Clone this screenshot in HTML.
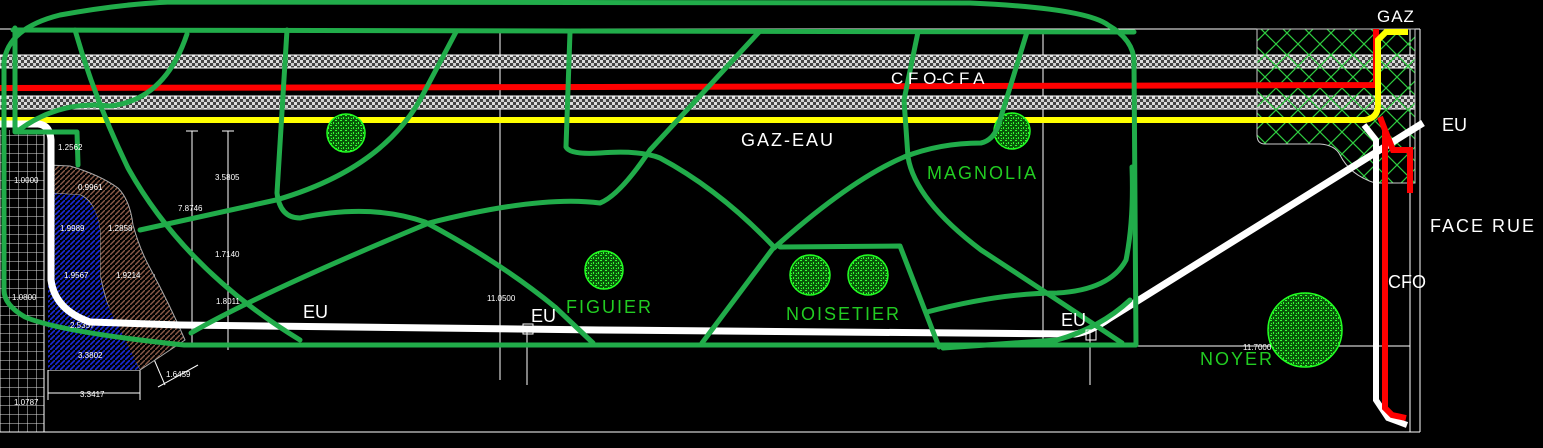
<!DOCTYPE html>
<html><head><meta charset="utf-8"><style>
html,body{margin:0;padding:0;background:#000;width:1543px;height:448px;overflow:hidden}
svg{display:block}
text{font-family:"Liberation Sans",sans-serif}
</style></head><body>
<svg width="1543" height="448" viewBox="0 0 1543 448" xmlns="http://www.w3.org/2000/svg">
<defs>
<pattern id="band" width="6" height="6" patternUnits="userSpaceOnUse">
<rect width="6" height="6" fill="#444"/>
<rect width="3" height="3" fill="#ddd"/><rect x="3" y="3" width="3" height="3" fill="#ccc"/>
</pattern>
<pattern id="xh" width="22" height="22" patternUnits="userSpaceOnUse">
<path d="M0,0 L22,22 M22,0 L0,22" stroke="#2ecc40" stroke-width="1.2"/>
</pattern>
<pattern id="blue" width="5" height="5" patternUnits="userSpaceOnUse">
<rect width="5" height="5" fill="#000"/>
<path d="M0,5 L5,0" stroke="#1a2ad8" stroke-width="1.6"/>
</pattern>
<pattern id="brown" width="5" height="5" patternUnits="userSpaceOnUse">
<rect width="5" height="5" fill="#000"/>
<path d="M0,5 L5,0" stroke="#8a5a48" stroke-width="1.4"/>
</pattern>
<pattern id="grid" width="9" height="9" patternUnits="userSpaceOnUse">
<path d="M0,0 H9 M0,0 V9" stroke="#ddd" stroke-width="1"/>
</pattern>
<pattern id="tree" width="5" height="5" patternUnits="userSpaceOnUse">
<rect width="5" height="5" fill="#0a5a0a"/>
<rect x="0" y="0" width="2" height="1" fill="#3f3"/><rect x="3" y="2" width="1" height="2" fill="#3f3"/><rect x="1" y="3" width="1" height="1" fill="#3f3"/>
</pattern>
</defs>

<rect x="0" y="130" width="44" height="302" fill="url(#grid)"/>
<line x1="44" y1="130" x2="44" y2="432" stroke="#fff"/>

<g stroke="#fff" stroke-width="1" fill="none">
<line x1="0" y1="29" x2="1420" y2="29"/>
<line x1="0" y1="432" x2="1420" y2="432"/>
<line x1="1420" y1="29" x2="1420" y2="432"/>
<line x1="1410" y1="29" x2="1410" y2="432"/>
<line x1="1100" y1="346" x2="1410" y2="346"/>
<line x1="500" y1="29" x2="500" y2="380"/>
<line x1="1043" y1="29" x2="1043" y2="340"/>
<line x1="527" y1="330" x2="527" y2="385"/>
<line x1="1090" y1="330" x2="1090" y2="385"/>
<line x1="192" y1="131" x2="192" y2="345"/>
<line x1="228" y1="131" x2="228" y2="350"/>
<line x1="186" y1="131" x2="198" y2="131"/><line x1="222" y1="131" x2="234" y2="131"/>
<line x1="48" y1="370" x2="140" y2="370"/>
<line x1="48" y1="393" x2="140" y2="393"/>
<line x1="48" y1="370" x2="48" y2="400"/><line x1="140" y1="370" x2="140" y2="400"/>
<line x1="52" y1="228" x2="100" y2="228"/>
<line x1="50" y1="275" x2="155" y2="275"/>
<line x1="150" y1="350" x2="165" y2="385"/>
<line x1="158" y1="387" x2="198" y2="365"/>
</g>

<rect x="0" y="55" width="1415" height="13" fill="url(#band)" stroke="#fff" stroke-width="1"/>
<rect x="0" y="96" width="1415" height="13" fill="url(#band)" stroke="#fff" stroke-width="1"/>

<path d="M1257,29 L1415,29 L1415,183 L1375,183 Q1350,175 1340,155 Q1335,145 1320,144 L1265,144 Q1257,144 1257,135 Z" fill="url(#xh)" stroke="#ccc" stroke-width="1"/>

<path d="M0,88 L600,87 L1376,85 L1376,29" stroke="#f00" stroke-width="6" fill="none"/>
<path d="M0,120 L1365,120 Q1378,118 1378,105 L1378,40 L1386,32 L1408,32" stroke="#ff0" stroke-width="6" fill="none"/>

<path d="M48,165 L70,166 Q100,175 118,188 Q130,200 133,225 Q140,250 150,268 Q170,305 185,340 L140,370 L115,325 Q105,300 100,275 L100,230 Q95,200 80,195 L48,193 Z" fill="url(#brown)" stroke="#aaa" stroke-width="1"/>
<path d="M48,193 L80,195 Q97,203 100,230 L100,275 Q105,305 118,325 L140,370 L48,370 Z" fill="url(#blue)"/>

<path d="M0,124 L38,124 Q50,125 51,140 L51,280 Q55,310 90,322 L180,325 L600,330 L1075,334 Q1090,332 1110,318 L1423,123" stroke="#fff" stroke-width="7" fill="none" stroke-linejoin="round"/>
<path d="M1364,125 L1376,140 L1376,400 L1388,418 L1407,425" stroke="#fff" stroke-width="6" fill="none"/>
<path d="M1380,117 L1385,130 L1385,408 L1392,415 L1406,418" stroke="#f00" stroke-width="6" fill="none"/>
<path d="M1385,130 L1393,150 L1410,150 L1410,193" stroke="#f00" stroke-width="6" fill="none"/>

<g stroke="#2f2" stroke-width="1.5" fill="url(#tree)">
<circle cx="346" cy="133" r="19"/>
<circle cx="1012" cy="131" r="18"/>
<circle cx="604" cy="270" r="19"/>
<circle cx="810" cy="275" r="20"/>
<circle cx="868" cy="275" r="20"/>
<circle cx="1305" cy="330" r="37"/>
</g>

<g stroke="#21ac4a" stroke-width="5" fill="none" stroke-linecap="round" stroke-linejoin="round">
<path d="M4,290 L4,62 Q8,28 60,15 Q120,4 170,2 L970,3 Q1085,8 1108,25 Q1134,40 1134,62 L1136,345 L184,345 Q60,332 25,317 Q4,305 4,290 Z"/>
<path d="M13,30 L1134,32"/>
<path d="M15,28 L15,132 L77,132 L78,165"/>
<path d="M187,34 Q165,100 110,106 Q60,100 19,130"/>
<path d="M75,30 Q95,100 128,168 Q185,270 300,340"/>
<path d="M140,230 L276,200 Q380,170 420,100 L456,32"/>
<path d="M287,30 L277,193 Q280,218 300,218 Q370,203 425,222 Q500,262 555,307 L593,343"/>
<path d="M191,333 Q260,293 429,223 Q540,195 600,203 Q620,195 650,150 L759,32"/>
<path d="M570,32 L566,147 Q570,155 600,153 Q640,150 660,158 Q720,190 774,247 L702,343"/>
<path d="M774,248 Q850,180 904,157 Q940,143 981,143 Q995,140 1000,120 L1027,32"/>
<path d="M780,247 L900,246 L939,347"/>
<path d="M918,32 L904,100 L908,157 Q915,200 981,250 Q1050,295 1122,343"/>
<path d="M927,312 Q1000,293 1057,293 Q1110,290 1126,260 Q1134,220 1132,167"/>
<path d="M943,348 L1057,340 Q1100,328 1130,300"/>
</g>

<g fill="#fff" font-size="18">
<text x="891" y="84" font-size="17" letter-spacing="0">C F O-C F A</text>
<text x="741" y="146" letter-spacing="2">GAZ-EAU</text>
<text x="303" y="318">EU</text>
<text x="531" y="322">EU</text>
<text x="1061" y="326">EU</text>
<text x="1442" y="131">EU</text>
<text x="1377" y="22" font-size="17" letter-spacing="1">GAZ</text>
<text x="1430" y="232" letter-spacing="2">FACE RUE</text>
<text x="1388" y="288">CFO</text>
</g>
<g fill="#22cc22" font-size="18" letter-spacing="2">
<text x="927" y="179">MAGNOLIA</text>
<text x="566" y="313">FIGUIER</text>
<text x="786" y="320">NOISETIER</text>
<text x="1200" y="365">NOYER</text>
</g>
<g fill="#fff" font-size="8">
<text x="58" y="150">1.2562</text>
<text x="78" y="190">0.9961</text>
<text x="60" y="231">1.9989</text>
<text x="108" y="231">1.2858</text>
<text x="64" y="278">1.9567</text>
<text x="116" y="278">1.9214</text>
<text x="70" y="328">2.5357</text>
<text x="78" y="358">3.3802</text>
<text x="80" y="397">3.3417</text>
<text x="166" y="377">1.6459</text>
<text x="178" y="211">7.8746</text>
<text x="215" y="180">3.5805</text>
<text x="215" y="257">1.7140</text>
<text x="216" y="304">1.8011</text>
<text x="487" y="301">11.0500</text>
<text x="1243" y="350">11.7000</text>
<text x="14" y="183">1.0000</text>
<text x="12" y="300">1.0800</text>
<text x="14" y="405">1.0787</text>
</g>
<rect x="523" y="324" width="10" height="10" fill="none" stroke="#fff"/>
<rect x="1086" y="330" width="10" height="10" fill="none" stroke="#fff"/>
</svg>
</body></html>
